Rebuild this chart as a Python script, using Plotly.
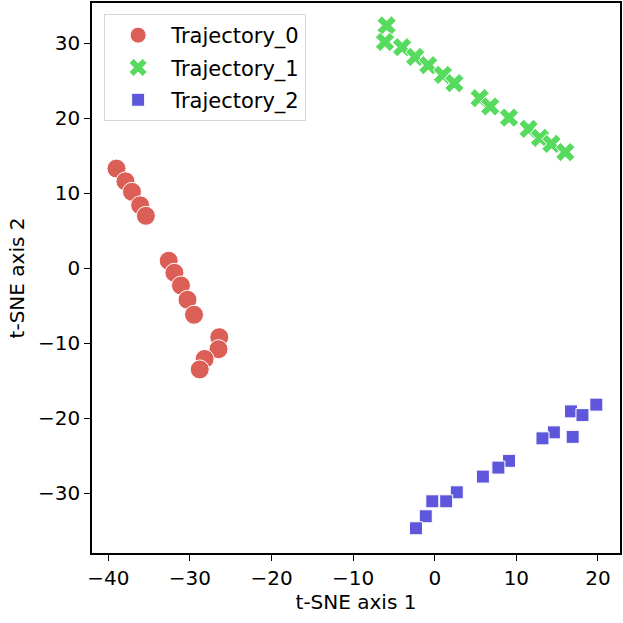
import plotly.graph_objects as go

# t-SNE embeddings
traj0_x = [-39.0, -37.9, -37.1, -36.1, -35.4, -32.6, -31.9, -31.1, -30.3, -29.5, -26.4, -26.5, -28.2, -28.8]
traj0_y = [13.3, 11.6, 10.2, 8.4, 7.0, 1.0, -0.6, -2.3, -4.2, -6.2, -9.2, -10.8, -12.1, -13.5]

traj1_x = [-5.9, -6.1, -4.0, -2.4, -0.8, 1.0, 2.4, 5.5, 6.8, 9.1, 11.5, 12.9, 14.3, 16.0]
traj1_y = [32.4, 30.2, 29.5, 28.2, 27.1, 25.8, 24.7, 22.7, 21.6, 20.1, 18.6, 17.4, 16.6, 15.5]

traj2_x = [19.8, 16.7, 18.1, 14.6, 16.9, 13.2, 9.1, 7.8, 5.9, 2.7, 1.4, -0.3, -1.1, -2.3]
traj2_y = [-18.2, -19.1, -19.6, -21.9, -22.5, -22.7, -25.7, -26.6, -27.8, -29.9, -31.1, -31.1, -33.1, -34.7]

names = ["Trajectory_0", "Trajectory_1", "Trajectory_2"]
colors = ["#db5f57", "#57db5f", "#5f57db"]
symbols = ["circle", "x", "square"]
sizes = [19, 17, 13]

fig = go.Figure()
for i, (xs, ys) in enumerate([(traj0_x, traj0_y), (traj1_x, traj1_y), (traj2_x, traj2_y)]):
    fig.add_trace(go.Scatter(
        x=xs, y=ys, mode="markers", name=names[i], legendgroup=names[i],
        marker=dict(symbol=symbols[i], size=sizes[i], color=colors[i],
                    line=dict(color="white", width=1)),
    ))

axis = dict(
    showgrid=False, zeroline=False, showline=True, linecolor="black", linewidth=1.5,
    mirror=True, ticks="outside", ticklen=6, tickwidth=1.3, tickcolor="black",
    tickfont=dict(size=20, color="black"), dtick=10,
)
fig.update_xaxes(axis, range=[-42.0, 22.7], title=dict(text="t-SNE axis 1", font=dict(size=20, color="black"), standoff=6))
fig.update_yaxes(axis, range=[-38.0, 35.4], title=dict(text="t-SNE axis 2", font=dict(size=20, color="black"), standoff=8))

fig.update_layout(
    width=623, height=623,
    margin=dict(l=92, r=2, t=1, b=70),
    plot_bgcolor="white", paper_bgcolor="white",
    font=dict(family="DejaVu Sans", color="black"),
    legend=dict(x=0.023, y=0.98, xanchor="left", yanchor="top",
                bgcolor="rgba(255,255,255,0.8)", bordercolor="#d6d6d6", borderwidth=1,
                font=dict(size=21), tracegroupgap=2, itemsizing="trace", itemwidth=56),
)

fig.write_html("out.html", config={"displayModeBar": False},
               post_script="document.body.style.margin='0';")
